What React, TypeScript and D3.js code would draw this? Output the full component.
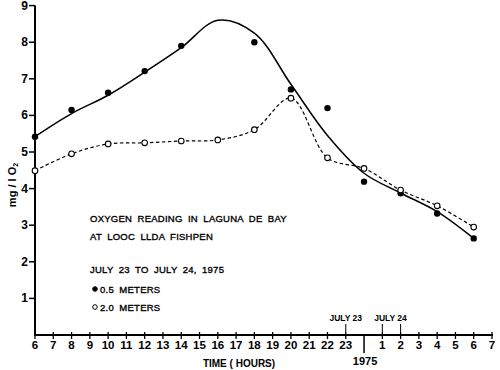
import React from "react";
import * as d3 from "d3";

// hours: 6..30 where 24 = midnight (July 24, 0h)
const hours = [6, 8, 10, 12, 14, 16, 18, 20, 22, 24, 26, 28, 30];
const shallow = [5.42, 6.15, 6.62, 7.21, 7.9, null, 8.0, 6.71, 6.2, 4.19, 3.87, 3.32, 2.64]; // 0.5 m
const deep = [4.49, 4.95, 5.22, 5.25, 5.3, 5.33, 5.61, 6.47, 4.84, 4.55, 3.96, 3.53, 2.95]; // 2.0 m
// hand-fitted smooth curve through the 0.5 m readings
const fitHours = [6, 8, 10, 12, 14, 16, 18, 20, 22, 24, 26, 28, 30];
const fitValues = [5.42, 6.05, 6.55, 7.18, 7.85, 8.6, 8.25, 6.85, 5.45, 4.42, 3.88, 3.37, 2.64];

const xTicks = d3.range(6, 32).filter((h) => h !== 24);
const yTicks = [1, 2, 3, 4, 5, 6, 7, 8, 9];
const tickLabel = (h: number) => String(h > 24 ? h - 24 : h);

const titleLines = ["OXYGEN READING IN LAGUNA DE BAY", "AT LOOC LLDA FISHPEN"];
const dateLine = "JULY 23 TO JULY 24, 1975";
const legend = [
  { label: "0.5 METERS", filled: true },
  { label: "2.0 METERS", filled: false },
];

export default function App() {
  const x = d3.scaleLinear().domain([6, 31]).range([35, 492]);
  const y = d3.scaleLinear().domain([0, 9]).range([335, 5.6]);

  const solid = d3
    .line<number>()
    .x((_, i) => x(fitHours[i]))
    .y((v) => y(v))
    .curve(d3.curveCatmullRom.alpha(0.5))(fitValues);

  const dashed = d3
    .line<number>()
    .x((_, i) => x(hours[i]))
    .y((v) => y(v))
    .curve(d3.curveCatmullRom.alpha(0.5))(deep);

  const font = "'Liberation Sans', Arial, sans-serif";
  const annot = { fontSize: 9.5, stroke: "#000", strokeWidth: 0.35, letterSpacing: 0.25, wordSpacing: 2.5 };

  return (
    <svg
      width={500}
      height={370}
      style={{ position: "absolute", left: 0, top: 0, background: "#fff" }}
      fontFamily={font}
    >
      {/* axes */}
      <line x1={x(6)} x2={x(6)} y1={y(9)} y2={y(0) + 1} stroke="#000" strokeWidth={2} />
      <line x1={x(6) - 1} x2={x(31) + 1} y1={y(0)} y2={y(0)} stroke="#000" strokeWidth={2} />

      {yTicks.map((t) => (
        <g key={t}>
          <line x1={x(6) - 6} x2={x(6)} y1={y(t)} y2={y(t)} stroke="#000" strokeWidth={1.5} />
          <text x={x(6) - 7} y={y(t) + 4} textAnchor="end" fontSize={12} fontWeight="bold">
            {t}
          </text>
        </g>
      ))}

      {xTicks.map((h) => (
        <g key={h}>
          <line x1={x(h)} x2={x(h)} y1={y(0) - 3} y2={y(0) + 4} stroke="#000" strokeWidth={1.3} />
          <text x={x(h)} y={y(0) + 14} textAnchor="middle" fontSize={11.5} fontWeight="bold">
            {tickLabel(h)}
          </text>
        </g>
      ))}

      {/* midnight marker */}
      <line x1={x(24)} x2={x(24)} y1={y(0)} y2={y(0) + 18} stroke="#000" strokeWidth={1.5} />
      <text x={x(24) + 1} y={y(0) + 30} textAnchor="middle" fontSize={11} fontWeight="bold">
        1975
      </text>

      {/* date markers above axis */}
      <line x1={x(23)} x2={x(23)} y1={y(0) - 11} y2={y(0) - 3} stroke="#000" strokeWidth={1} />
      <text x={x(23)} y={y(0) - 14} textAnchor="middle" fontSize={8.5} fontWeight="bold">
        JULY 23
      </text>
      <line x1={x(25)} x2={x(25)} y1={y(0) - 11} y2={y(0) - 3} stroke="#000" strokeWidth={1} />
      <line x1={x(26)} x2={x(26)} y1={y(0) - 11} y2={y(0) - 3} stroke="#000" strokeWidth={1} />
      <text x={x(25.45)} y={y(0) - 14} textAnchor="middle" fontSize={8.5} fontWeight="bold">
        JULY 24
      </text>

      <text x={239} y={367} textAnchor="middle" fontSize={10} fontWeight="bold">
        TIME ( HOURS)
      </text>

      <text
        transform={`translate(16, 185) rotate(-90)`}
        textAnchor="middle"
        fontSize={11}
        fontWeight="bold"
      >
        mg / l O<tspan fontSize={7} dy={2}>2</tspan>
      </text>

      {/* curves */}
      <path d={solid ?? ""} fill="none" stroke="#000" strokeWidth={1.5} />
      <path d={dashed ?? ""} fill="none" stroke="#000" strokeWidth={1.2} strokeDasharray="3.5 2.5" />

      {/* points */}
      {shallow.map((v, i) =>
        v == null ? null : <circle key={"s" + i} cx={x(hours[i])} cy={y(v)} r={3.2} fill="#000" />
      )}
      {deep.map((v, i) => (
        <circle key={"d" + i} cx={x(hours[i])} cy={y(v)} r={2.8} fill="#fff" stroke="#000" strokeWidth={1.1} />
      ))}

      {/* annotation */}
      {titleLines.map((t, i) => (
        <text key={t} x={90} y={222 + i * 18} {...annot}>
          {t}
        </text>
      ))}
      <text x={90} y={273} {...annot}>
        {dateLine}
      </text>
      {legend.map((l, i) => (
        <g key={l.label}>
          <circle
            cx={95}
            cy={289 + i * 18}
            r={2.3}
            fill={l.filled ? "#000" : "#fff"}
            stroke="#000"
            strokeWidth={1}
          />
          <text x={100} y={293 + i * 18} {...annot}>
            {l.label}
          </text>
        </g>
      ))}
    </svg>
  );
}
